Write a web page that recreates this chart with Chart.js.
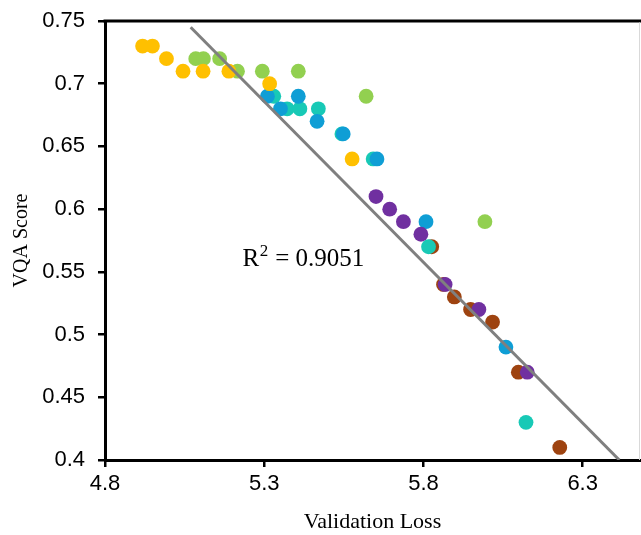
<!DOCTYPE html>
<html>
<head>
<meta charset="utf-8">
<script src="https://cdn.jsdelivr.net/npm/chart.js@4/dist/chart.umd.min.js"></script>
<style>
  html, body { margin: 0; padding: 0; background: #ffffff; }
  #wrap { width: 641px; height: 535px; }
</style>
</head>
<body>
<div id="wrap"><canvas id="chart" width="641" height="535"></canvas></div>
<script>
// Validation loss (x) and VQA score (y) per model group
const orangeLoss  = [4.918, 4.949, 4.993, 5.045, 5.108, 5.189, 5.317, 5.576];
const orangeScore = [0.73, 0.73, 0.72, 0.71, 0.71, 0.71, 0.70, 0.64];

const greenLoss  = [5.085, 5.109, 5.160, 5.216, 5.294, 5.407, 5.620, 5.993];
const greenScore = [0.72, 0.72, 0.72, 0.71, 0.71, 0.71, 0.69, 0.59];

const blueLoss  = [5.310, 5.351, 5.407, 5.466, 5.548, 5.654, 5.808, 6.059];
const blueScore = [0.69, 0.68, 0.69, 0.67, 0.66, 0.64, 0.59, 0.49];

const tealLoss  = [5.330, 5.372, 5.412, 5.470, 5.544, 5.642, 5.816, 6.122];
const tealScore = [0.69, 0.68, 0.68, 0.68, 0.66, 0.64, 0.57, 0.43];

const purpleLoss  = [5.651, 5.694, 5.737, 5.792, 5.868, 5.974, 6.126];
const purpleScore = [0.61, 0.60, 0.59, 0.58, 0.54, 0.52, 0.47];

const brownLoss  = [5.826, 5.863, 5.897, 5.948, 6.017, 6.098, 6.228];
const brownScore = [0.57, 0.54, 0.53, 0.52, 0.51, 0.47, 0.41];

// Linear trendline end points
const trendLoss  = [5.069, 6.415];
const trendScore = [0.745, 0.40];
const rSquaredText = '0.9051';

// Axis ticks
const xTicks = [4.8, 5.3, 5.8, 6.3];
const xTickLabels = ['4.8', '5.3', '5.8', '6.3'];
const yTicks = [0.4, 0.45, 0.5, 0.55, 0.6, 0.65, 0.7, 0.75];
const yTickLabels = ['0.4', '0.45', '0.5', '0.55', '0.6', '0.65', '0.7', '0.75'];

const toPoints = (xs, ys) => xs.map((x, i) => ({ x: x, y: ys[i] }));

function markerSet(label, xs, ys, color) {
  return {
    type: 'scatter',
    label: label,
    data: toPoints(xs, ys),
    backgroundColor: color,
    borderWidth: 0,
    pointRadius: 7.4,
    pointHoverRadius: 7.4
  };
}

const tickFont = { family: '"Liberation Sans", Arial, sans-serif', size: 22 };
const titleFontFamily = '"Liberation Serif", "Times New Roman", serif';

// Keep the plot area fixed: no extra room reserved for edge tick labels
function fixPadding(scale) {
  scale.paddingLeft = 0;
  scale.paddingRight = 0;
  scale.paddingTop = 0;
  scale.paddingBottom = 0;
}

// Frame on the top and right of the plot area, plus the R² annotation
const framePlugin = {
  id: 'frame',
  afterDraw(chart) {
    const { ctx, chartArea, scales } = chart;
    ctx.save();
    ctx.strokeStyle = '#000000';
    ctx.lineWidth = 3;
    ctx.beginPath();
    ctx.moveTo(chartArea.left - 1.5, chartArea.top);
    ctx.lineTo(chart.width, chartArea.top);
    ctx.stroke();

    ctx.strokeStyle = '#d9d9d9';
    ctx.lineWidth = 1;
    ctx.beginPath();
    ctx.moveTo(chartArea.right - 0.5, chartArea.top + 1.5);
    ctx.lineTo(chartArea.right - 0.5, chartArea.bottom);
    ctx.stroke();

    // R² = value, placed in data space
    const x0 = scales.x.getPixelForValue(5.232);
    const yb = scales.y.getPixelForValue(0.5545);
    ctx.fillStyle = '#000000';
    ctx.textBaseline = 'alphabetic';
    ctx.textAlign = 'left';
    ctx.font = '25px ' + titleFontFamily;
    ctx.fillText('R', x0, yb);
    let x = x0 + ctx.measureText('R').width + 0.5;
    ctx.font = '17px ' + titleFontFamily;
    ctx.fillText('2', x, yb - 10);
    x += ctx.measureText('2').width + 7;
    ctx.font = '25px ' + titleFontFamily;
    ctx.fillText('= ' + rSquaredText, x, yb);
    ctx.restore();
  }
};

new Chart(document.getElementById('chart'), {
  type: 'scatter',
  data: {
    datasets: [
      {
        type: 'line',
        label: 'Linear fit',
        data: toPoints(trendLoss, trendScore),
        borderColor: '#7f7f7f',
        borderWidth: 3,
        pointRadius: 0,
        fill: false,
        showLine: true
      },
      markerSet('Group A', orangeLoss, orangeScore, '#ffc000'),
      markerSet('Group B', greenLoss, greenScore, '#92d050'),
      markerSet('Group E', purpleLoss, purpleScore, '#7030a0'),
      markerSet('Group C', blueLoss, blueScore, '#0f9ed5'),
      markerSet('Group D', tealLoss, tealScore, '#18c9b6'),
      markerSet('Group F', brownLoss, brownScore, '#9e4310')
    ]
  },
  options: {
    responsive: false,
    animation: false,
    devicePixelRatio: 1,
    layout: { autoPadding: false, padding: { top: 21, right: 1, bottom: 0, left: 0 } },
    plugins: {
      legend: { display: false },
      tooltip: { enabled: false }
    },
    scales: {
      x: {
        type: 'linear',
        min: 4.8,
        max: 6.48,
        afterBuildTicks: (scale) => { scale.ticks = xTicks.map(v => ({ value: v })); },
        afterFit: (scale) => { scale.height = 75; fixPadding(scale); },
        ticks: {
          font: tickFont,
          color: '#000000',
          padding: 4,
          maxRotation: 0,
          autoSkip: false,
          callback: (value, index) => xTickLabels[index]
        },
        grid: {
          drawOnChartArea: false,
          drawTicks: true,
          tickLength: 7,
          color: '#000000',
          lineWidth: 2.5
        },
        border: { color: '#000000', width: 3 },
        title: {
          display: true,
          text: 'Validation Loss',
          color: '#000000',
          font: { family: titleFontFamily, size: 22 },
          padding: { top: 0, bottom: 0 }
        }
      },
      y: {
        type: 'linear',
        min: 0.4,
        max: 0.75,
        afterBuildTicks: (scale) => { scale.ticks = yTicks.map(v => ({ value: v })); },
        afterFit: (scale) => { scale.width = 105; fixPadding(scale); },
        ticks: {
          font: tickFont,
          color: '#000000',
          padding: 13,
          autoSkip: false,
          callback: (value, index) => yTickLabels[index]
        },
        grid: {
          drawOnChartArea: false,
          drawTicks: true,
          tickLength: 7,
          color: '#000000',
          lineWidth: 2.5
        },
        border: { color: '#000000', width: 3 },
        title: {
          display: true,
          text: 'VQA Score',
          color: '#000000',
          font: { family: titleFontFamily, size: 20 },
          padding: { top: 10, bottom: 0 }
        }
      }
    }
  },
  plugins: [framePlugin]
});
</script>
</body>
</html>
